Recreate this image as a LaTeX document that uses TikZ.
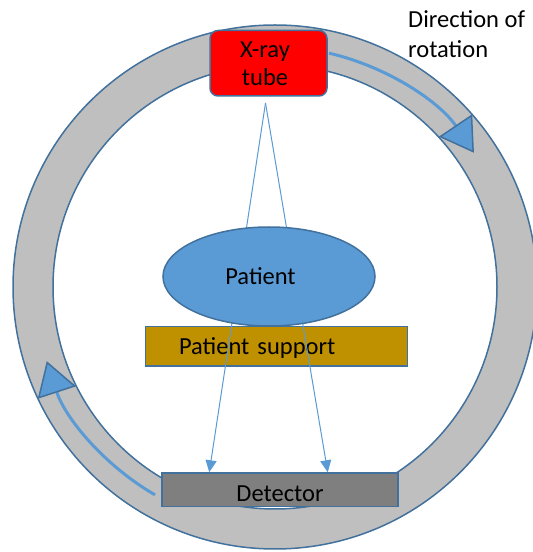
\documentclass[tikz,border=0pt]{standalone}
\usepackage{fontspec}
\setmainfont{Carlito}
\usepackage{tikz}
\usetikzlibrary{shapes,arrows.meta}
\definecolor{ringgray}{RGB}{191,191,191}
\definecolor{edge}{RGB}{65,113,156}
\definecolor{beamblue}{RGB}{91,155,213}
\definecolor{supportgold}{RGB}{191,144,0}
\definecolor{detgray}{RGB}{127,127,127}
\tikzstyle{every node}=[font=\fontsize{24.5}{28}\selectfont]
\tikzstyle{ringdisc}=[circle,draw=edge,line width=1.5pt,inner sep=0pt]
\tikzstyle{tubebox}=[draw=edge,line width=1.5pt,fill=red,rounded corners=8pt,minimum width=117pt,minimum height=65.5pt,align=center,inner sep=0pt]
\tikzstyle{patientshape}=[ellipse,draw=edge,line width=1.5pt,fill=beamblue,minimum width=212pt,minimum height=99pt,inner sep=0pt]
\tikzstyle{supportbox}=[draw=edge,line width=1.5pt,fill=supportgold,minimum width=262pt,minimum height=39.5pt,text width=195pt,inner xsep=33.5pt,align=left,text depth=0pt]
\tikzstyle{detectorbox}=[draw=edge,line width=1.5pt,fill=detgray,minimum width=236pt,minimum height=33.5pt,text height=23pt,text depth=0pt,inner sep=0pt]
\tikzstyle{spin}=[beamblue,line width=3pt,-{Triangle[length=33pt,width=40pt,color=edge,fill=beamblue,line width=1.5pt]}]
\tikzstyle{beam}=[beamblue,line width=1pt,-{Triangle[length=12pt,width=11pt]}]

\begin{document}
\begin{tikzpicture}[x=1pt,y=1pt]
\useasboundingbox (0,0) rectangle (533,552);
\clip (0,0) rectangle (533,552);
% gantry ring
\node[ringdisc, fill=ringgray, minimum size=524pt] (ring) at (275,265) {};
\node[ringdisc, fill=white, minimum size=444pt] (hole) at (275,265) {};
% direction of rotation
\draw[spin] ([shift={(77:240)}]ring.center) arc[start angle=77, end angle=34, radius=240];
\draw[spin] ([shift={(240:240)}]ring.center) arc[start angle=240, end angle=198, radius=240];
\node[align=left, anchor=north west, inner sep=0pt, font=\fontsize{24.5}{30}\selectfont] (direction) at (408,542) {Direction of\\rotation};
% parts
\node[tubebox] (tube) at (268.5,488.75) {X-ray\hspace*{7pt}\\tube\hspace*{7pt}};
\node[supportbox] (support) at (276.5,205.75) {Patient support};
\node[detectorbox] (detector) at (280,62.25) {Detector};
\coordinate (focus) at (265.5,449);
\draw[beam] (focus) -- ([xshift=48pt]detector.north west);
\draw[beam] (focus) -- ([xshift=-71pt]detector.north east);
\node[patientshape] (patient) at (269,275.5) {Patient\hspace*{17pt}};
\end{tikzpicture}
\end{document}
